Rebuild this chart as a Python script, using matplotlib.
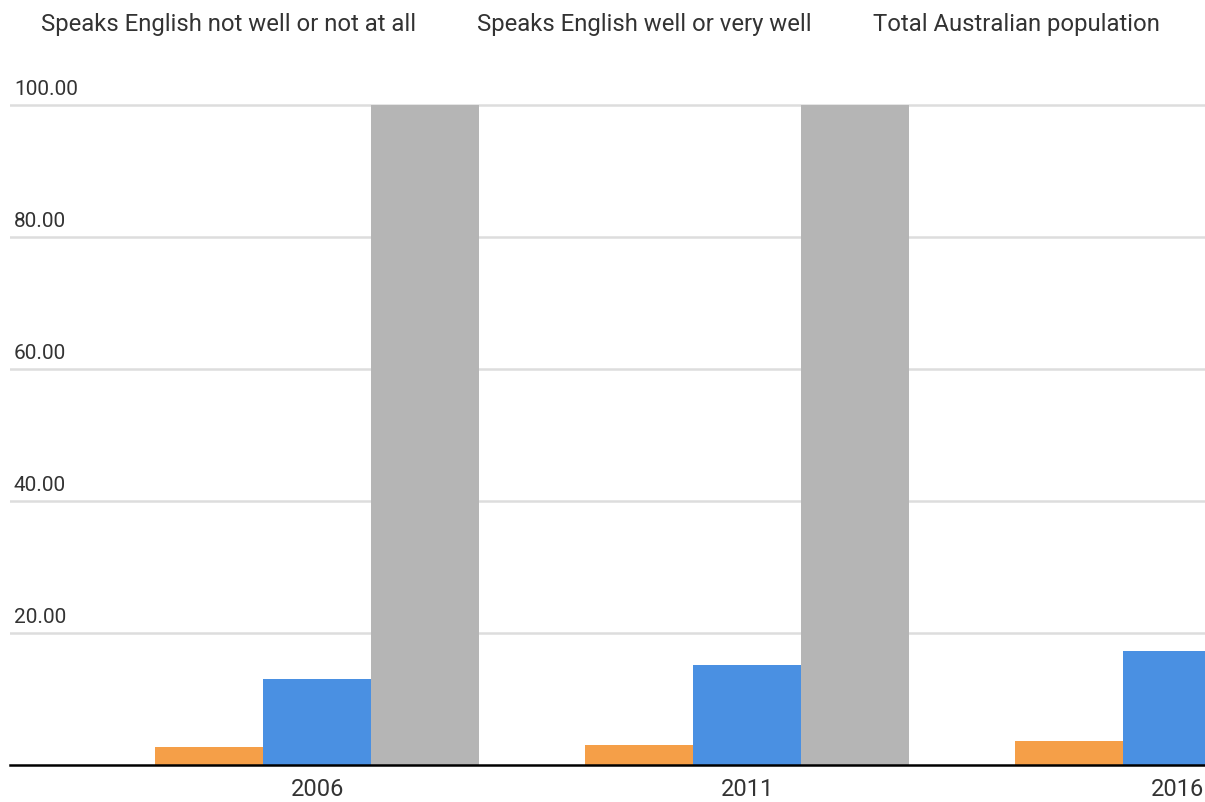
import matplotlib
matplotlib.use("Agg")
import matplotlib.pyplot as plt
import numpy as np

years = ["2006", "2011", "2016"]
series_names = ["Speaks English not well or not at all",
                "Speaks English well or very well",
                "Total Australian population"]
not_well = [2.7, 3.1, 3.7]
well = [13.1, 15.2, 17.3]
total = [100.0, 100.0, 100.0]
yticks = [20, 40, 60, 80, 100]
colors = ["#F59F48", "#4A90E2", "#B5B5B5"]

plt.rcParams['font.family'] = ['Roboto', 'DejaVu Sans']
W, H = 1205, 803
fig = plt.figure(figsize=(W / 100, H / 100), dpi=100)

px_unit = 6.6
y0 = 766
top_px = y0 - 101 * px_unit
ax = fig.add_axes([10 / W, 1 - y0 / H, 1 - 10 / W, (y0 - top_px) / H])

x = np.arange(len(years))
w = 0.2512
for i, (vals, c) in enumerate(zip([not_well, well, total], colors)):
    ax.bar(x + (i - 1) * w, vals, width=w, color=c, linewidth=0, zorder=2)

ax.set_ylim(0, 101)
ax.set_xlim(-0.715, 2.064)
ax.set_yticks(yticks)
ax.yaxis.grid(True, color="#dddddd", linewidth=1.8, zorder=0)
ax.set_axisbelow(True)
ax.tick_params(axis='y', length=0, labelleft=False)
ax.set_xticks(x)
ax.set_xticklabels(years, fontsize=17, color="#333333")
ax.tick_params(axis='x', length=0, pad=9)
for s in ["left", "right", "top"]:
    ax.spines[s].set_visible(False)
ax.spines["bottom"].set_color("black")
ax.spines["bottom"].set_linewidth(1.8)
ax.spines["bottom"].set_zorder(3)

for v in yticks:
    ax.annotate(f"{v:.2f}", xy=(0, v), xycoords=('axes fraction', 'data'),
                xytext=(4, 7), textcoords='offset pixels',
                ha='left', va='bottom', fontsize=15, color="#333333")

leg_x = [41, 477, 873]
for name, lx in zip(series_names, leg_x):
    fig.text(lx / W, 1 - 25 / H, name, ha='left', va='center',
             fontsize=17.2, color="#333333")

fig.savefig("out.png", dpi=100)
